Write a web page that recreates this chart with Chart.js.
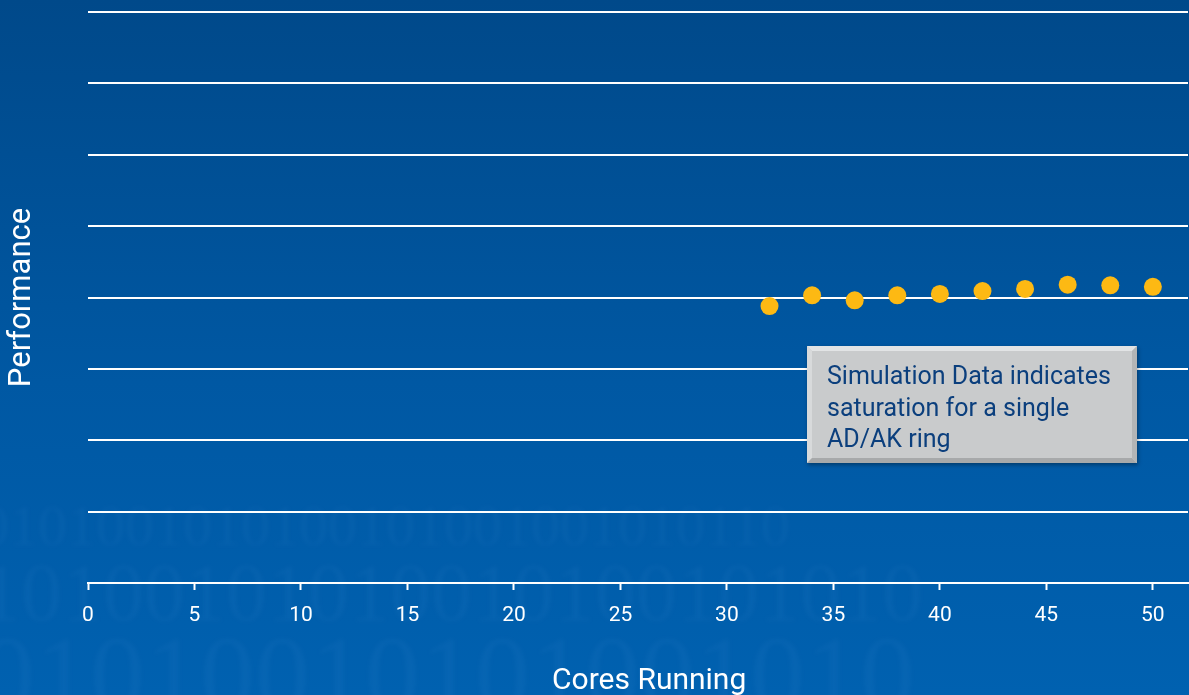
<!DOCTYPE html>
<html>
<head>
<meta charset="utf-8">
<script src="https://cdn.jsdelivr.net/npm/chart.js@4/dist/chart.umd.min.js"></script>
<style>
  body { margin: 0; background: #00509a; overflow: hidden; width: 1189px; height: 695px; }
  canvas { display: block; }
</style>
</head>
<body>
<canvas id="myChart" width="1197" height="695"></canvas>
<script>
// cores running (x) and relative performance (y, in gridline units)
const cores = [32, 34, 36, 38, 40, 42, 44, 46, 48, 50];
const performance = [3.88, 4.03, 3.96, 4.03, 4.05, 4.09, 4.12, 4.18, 4.17, 4.15];
const xTicks = [0, 5, 10, 15, 20, 25, 30, 35, 40, 45, 50];
const noteLines = ["Simulation Data indicates", "saturation for a single", "AD/AK ring"];

const FONT = "Roboto";

// background gradient + faint binary watermark
const backdrop = {
	id: "backdrop",
	beforeDraw(chart) {
		const ctx = chart.ctx;
		const w = chart.width, h = chart.height;
		ctx.save();
		const g = ctx.createLinearGradient(0, 0, 0, h);
		g.addColorStop(0, "#00498a");
		g.addColorStop(0.55, "#0058a3");
		g.addColorStop(1, "#0061b0");
		ctx.fillStyle = g;
		ctx.fillRect(0, 0, w, h);

		ctx.filter = "blur(2px)";
		ctx.fillStyle = "rgba(110,170,235,0.06)";
		ctx.textBaseline = "alphabetic";
		const rows = [
			{ y: 545, size: 58, text: "0101001010100101001001010110" },
			{ y: 620, size: 82, text: "10100101010010100101010" },
			{ y: 712, size: 110, text: "01010010101001010" }
		];
		for (const r of rows) {
			ctx.font = r.size + "px 'Liberation Serif'";
			ctx.fillText(r.text, -20, r.y);
		}
		ctx.restore();
	}
};

// grey bevelled note box, placed in data coordinates
const noteBox = {
	id: "noteBox",
	afterDatasetsDraw(chart) {
		const ctx = chart.ctx;
		const xs = chart.scales.x, ys = chart.scales.y;
		const x0 = Math.round(xs.getPixelForValue(33.76));
		const x1 = Math.round(xs.getPixelForValue(49.25));
		const y0 = Math.round(ys.getPixelForValue(3.32));
		const y1 = Math.round(ys.getPixelForValue(1.68));
		const w = x1 - x0, h = y1 - y0, b = 5;
		ctx.save();
		ctx.shadowColor = "rgba(0,0,0,0.35)";
		ctx.shadowBlur = 4;
		ctx.shadowOffsetX = 1;
		ctx.shadowOffsetY = 2;
		ctx.fillStyle = "#c9cbcc";
		ctx.fillRect(x0, y0, w, h);
		ctx.restore();

		ctx.save();
		// bevel edges
		ctx.fillStyle = "#e2e4e5";
		ctx.beginPath();
		ctx.moveTo(x0, y0); ctx.lineTo(x1, y0); ctx.lineTo(x1 - b, y0 + b); ctx.lineTo(x0 + b, y0 + b); ctx.closePath();
		ctx.fill();
		ctx.fillStyle = "#d8dadb";
		ctx.beginPath();
		ctx.moveTo(x0, y0); ctx.lineTo(x0 + b, y0 + b); ctx.lineTo(x0 + b, y1 - b); ctx.lineTo(x0, y1); ctx.closePath();
		ctx.fill();
		ctx.fillStyle = "#a7a9aa";
		ctx.beginPath();
		ctx.moveTo(x0, y1); ctx.lineTo(x0 + b, y1 - b); ctx.lineTo(x1 - b, y1 - b); ctx.lineTo(x1, y1); ctx.closePath();
		ctx.fill();
		ctx.fillStyle = "#b3b5b6";
		ctx.beginPath();
		ctx.moveTo(x1, y0); ctx.lineTo(x1, y1); ctx.lineTo(x1 - b, y1 - b); ctx.lineTo(x1 - b, y0 + b); ctx.closePath();
		ctx.fill();

		ctx.fillStyle = "#0b3f7d";
		ctx.font = "25px '" + FONT + "'";
		ctx.textBaseline = "middle";
		noteLines.forEach(function(line, i) {
			ctx.fillText(line, x0 + 20, y0 + 32 + i * 31.5);
		});
		ctx.restore();
	}
};

const points = cores.map(function(c, i) { return { x: c, y: performance[i] }; });

new Chart("myChart", {
	type: "scatter",
	data: {
		datasets: [{
			label: "Performance",
			data: points,
			backgroundColor: "#fdb913",
			borderWidth: 0,
			pointRadius: 9,
			pointHoverRadius: 9
		}]
	},
	options: {
		responsive: false,
		animation: false,
		layout: { padding: { top: 12, right: 0, left: 0, bottom: 0 } },
		plugins: {
			legend: { display: false },
			tooltip: { enabled: false }
		},
		scales: {
			x: {
				type: "linear",
				min: 0,
				max: 51.65,
				afterFit(scale) {
					scale.height = 112;
				},
				afterBuildTicks(scale) {
					scale.ticks = xTicks.map(function(v) { return { value: v }; });
				},
				border: { display: true, color: "#ffffff", width: 2 },
				grid: {
					drawOnChartArea: false,
					drawTicks: true,
					tickLength: 7,
					tickWidth: 2,
					tickColor: "#ffffff"
				},
				ticks: {
					color: "#ffffff",
					padding: 13,
					maxRotation: 0,
					font: { family: FONT, size: 21 }
				},
				title: {
					display: true,
					// leading no-break spaces nudge the centred title a little right
					text: "\u00A0\u00A0\u00A0Cores Running",
					color: "#ffffff",
					font: { family: FONT, size: 30 },
					padding: { top: 0, bottom: -4 }
				}
			},
			y: {
				min: 0,
				max: 8,
				afterFit(scale) { scale.width = 88; },
				border: { display: false },
				grid: {
					color: "#ffffff",
					lineWidth: 2,
					drawTicks: false
				},
				ticks: { display: false, stepSize: 1 },
				title: {
					display: true,
					text: "Performance",
					color: "#ffffff",
					font: { family: FONT, size: 31 },
					padding: { top: 4, bottom: 0 }
				}
			}
		}
	},
	plugins: [backdrop, noteBox]
});
</script>
</body>
</html>
